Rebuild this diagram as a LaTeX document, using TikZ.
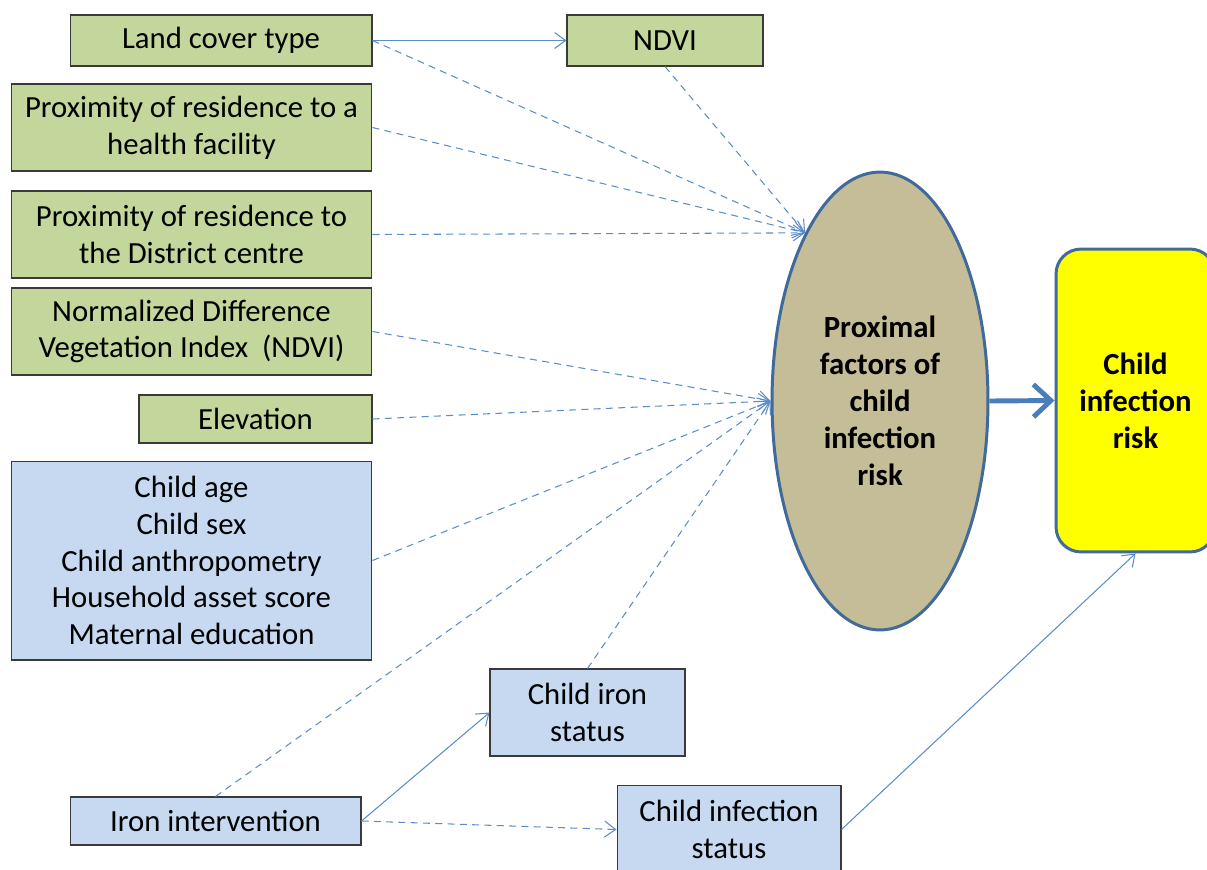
\documentclass[tikz,border=0pt]{standalone}
\usepackage{fontspec}
\setmainfont{Carlito}
\usepackage{xcolor}
\usetikzlibrary{arrows.meta,shapes.geometric}
\definecolor{greenf}{HTML}{C3D69B}
\definecolor{bluef}{HTML}{C6D9F1}
\definecolor{tanf}{HTML}{C4BD97}
\definecolor{linec}{HTML}{4A7EBB}
\definecolor{thinc}{HTML}{5C8DCB}
\definecolor{edgec}{HTML}{3F6A9A}
\definecolor{boxc}{HTML}{3A3A3A}
\definecolor{riskf}{HTML}{FFFF00}
\tikzset{
  gbox/.style={draw=boxc,line width=0.6pt,fill=greenf,align=center,inner sep=2pt,font=\fontsize{17.5}{21}\selectfont},
  bbox/.style={gbox,fill=bluef},
  ar/.style={-{Straight Barb[length=2.2mm,width=3.2mm]},thinc,line width=0.6pt},
  dar/.style={ar,dash pattern=on 4pt off 3pt},
  bigar/.style={-{Straight Barb[length=3.5mm,width=6.5mm]},linec,line width=2.8pt}
}

\begin{document}
\begin{tikzpicture}[x=0.02cm,y=-0.02cm]
\useasboundingbox (0,0) rectangle (1207,869);
\node[gbox,minimum width=6.04cm,minimum height=1.02cm] (land) at (221,40.5) {Land cover type};
\node[gbox,minimum width=3.92cm,minimum height=1.02cm] (ndvi) at (665,40.5) {NDVI};
\node[gbox,minimum width=7.22cm,minimum height=1.74cm] (health) at (191.5,127.5) {Proximity of residence to a\\health facility};
\node[gbox,minimum width=7.22cm,minimum height=1.74cm] (district) at (191.5,234.5) {Proximity of residence to\\the District centre};
\node[gbox,minimum width=7.22cm,minimum height=1.74cm] (ndviful) at (191.5,331.5) {Normalized Difference\\Vegetation Index~ (NDVI)};
\node[gbox,minimum width=4.66cm,minimum height=0.96cm] (elev) at (255.5,419) {Elevation};
\node[bbox,minimum width=7.22cm,minimum height=3.98cm] (child) at (191.5,560.5) {Child age\\Child sex\\Child anthropometry\\Household asset score\\Maternal education};
\node[bbox,minimum width=3.9cm,minimum height=1.74cm] (ironst) at (587.5,712.5) {Child iron\\status};
\node[bbox,minimum width=5.82cm,minimum height=0.96cm] (ironin) at (215.5,821) {Iron intervention};
\node[bbox,minimum width=4.48cm,minimum height=1.76cm] (infst) at (729,829.5) {Child infection\\status};
\node[ellipse,draw=edgec,line width=1.7pt,fill=tanf,minimum width=4.32cm,minimum height=9.16cm,inner sep=0pt,align=center,font=\fontsize{17.5}{21}\selectfont\bfseries] (prox) at (880,401) {Proximal\\factors of\\child\\infection\\risk};
\node[draw=edgec,line width=1.7pt,fill=riskf,rounded corners=0.5cm,minimum width=3.18cm,minimum height=6.06cm,align=center,font=\fontsize{17.5}{21}\selectfont\bfseries] (risk) at (1135.5,400.5) {Child\\infection\\risk};
\coordinate (top) at (prox.114.7);
\draw[ar] (land.east) -- (ndvi.west);
\draw[dar] (land.east) -- (top);
\draw[dar] (ndvi.south) -- (top);
\draw[dar] (health.east) -- (top);
\draw[dar] (district.east) -- (top);
\draw[dar] (ndviful.east) -- (prox.west);
\draw[dar] (elev.east) -- (prox.west);
\draw[dar] (child.east) -- (prox.west);
\draw[dar] (ironin.north) -- (prox.west);
\draw[dar] (ironst.north) -- (prox.west);
\draw[ar] (ironin.east) -- (ironst.west);
\draw[dar] (ironin.east) -- (infst.west);
\draw[ar] (infst.east) -- (risk.south);
\draw[bigar] (prox.east) -- (risk.west);
\end{tikzpicture}
\end{document}
